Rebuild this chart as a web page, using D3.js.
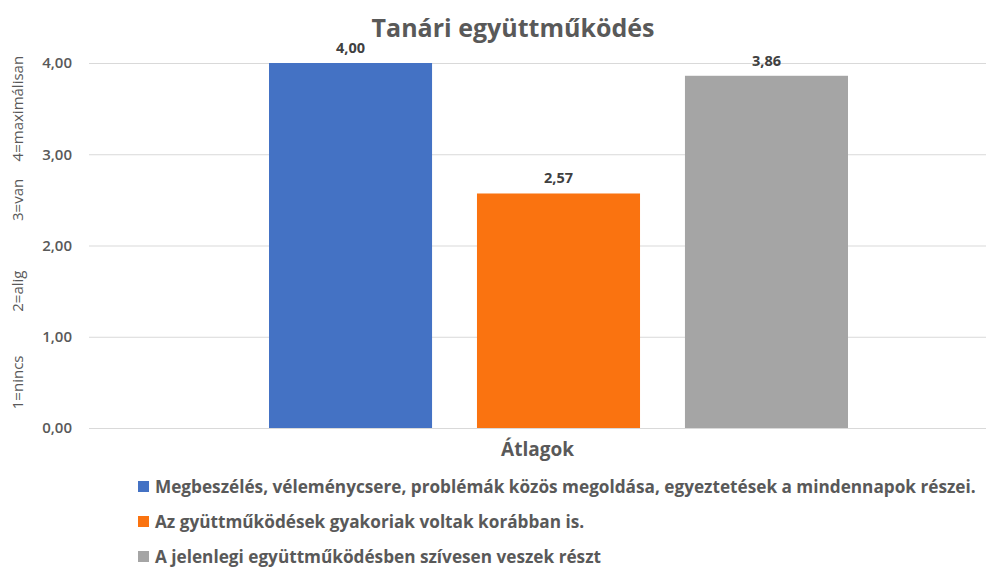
<!DOCTYPE html>
<html>
<head>
<meta charset="utf-8">
<script src="https://cdn.jsdelivr.net/npm/d3@7"></script>
<style>
  body { margin: 0; background: #fff; }
  svg { font-family: "Open Sans", "Liberation Sans", sans-serif; }
  .tick-label { font-size: 15px; font-weight: 600; fill: #595959; }
  .band-label { font-size: 15px; font-weight: 500; fill: #595959; }
  .value-label { font-size: 14.5px; font-weight: 700; fill: #404040; }
  .legend-text { font-size: 17.2px; font-weight: 700; fill: #595959; }
</style>
</head>
<body>
<svg id="chart" width="987" height="567"></svg>
<script>
const title = "Tanári együttműködés";
const category = "Átlagok";
const series = [
    "Megbeszélés, véleménycsere, problémák közös megoldása, egyeztetések a mindennapok részei.",
    "Az gyüttműködések gyakoriak voltak korábban is.",
    "A jelenlegi együttműködésben szívesen veszek részt"
];
const values = [4.00, 2.57, 3.86];
const colors = ["#4472C4", "#FA7310", "#A5A5A5"];
const yTicks = [0, 1, 2, 3, 4];
const levelLabels = ["1=nincs", "2=alig", "3=van", "4=maximálisan"];

const svg = d3.select("#chart");
const plot = { left: 89, right: 986, top: 63, bottom: 428 };

const fmt = v => v.toFixed(2).replace(".", ",");

const y = d3.scaleLinear().domain([0, 4]).range([plot.bottom, plot.top]);

// bars sit a bit right of the plot centre in the original
const x = d3.scaleBand()
    .domain(series)
    .range([269, 848])
    .paddingInner(0.216)
    .paddingOuter(0);

// gridlines
svg.append("g")
    .selectAll("line")
    .data(yTicks)
    .join("line")
    .attr("x1", plot.left)
    .attr("x2", plot.right)
    .attr("y1", d => y(d) + 0.5)
    .attr("y2", d => y(d) + 0.5)
    .attr("stroke", "#D9D9D9")
    .attr("stroke-width", 1);

// tick labels
svg.append("g")
    .selectAll("text")
    .data(yTicks)
    .join("text")
    .attr("class", "tick-label")
    .attr("x", 72)
    .attr("y", d => y(d))
    .attr("dy", "0.35em")
    .attr("text-anchor", "end")
    .text(d => fmt(d));

// level labels, one per band, rotated
svg.append("g")
    .selectAll("text")
    .data(levelLabels)
    .join("text")
    .attr("class", "band-label")
    .attr("transform", (d, i) => `translate(23,${y(i + 0.5)}) rotate(-90)`)
    .attr("text-anchor", "middle")
    .text(d => d);

// bars
svg.append("g")
    .selectAll("rect")
    .data(series)
    .join("rect")
    .attr("x", d => x(d))
    .attr("width", x.bandwidth())
    .attr("y", (d, i) => y(values[i]))
    .attr("height", (d, i) => y(0) - y(values[i]))
    .attr("fill", (d, i) => colors[i]);

// value labels
svg.append("g")
    .selectAll("text")
    .data(series)
    .join("text")
    .attr("class", "value-label")
    .attr("x", d => x(d) + x.bandwidth() / 2)
    .attr("y", (d, i) => y(values[i]) - 10)
    .attr("text-anchor", "middle")
    .text((d, i) => fmt(values[i]));

// title
svg.append("text")
    .attr("x", 513)
    .attr("y", 37)
    .attr("text-anchor", "middle")
    .style("font-size", "25px")
    .style("font-weight", 700)
    .style("fill", "#595959")
    .text(title);

// category label
svg.append("text")
    .attr("x", (plot.left + plot.right) / 2)
    .attr("y", 456)
    .attr("text-anchor", "middle")
    .style("font-size", "19px")
    .style("font-weight", 700)
    .style("fill", "#595959")
    .text(category);

// legend
const legend = svg.append("g");
const rowY = d3.scalePoint().domain(series).range([487, 557]);
series.forEach((s, i) => {
    legend.append("rect")
        .attr("x", 138)
        .attr("y", rowY(s) - 6)
        .attr("width", 11)
        .attr("height", 11)
        .attr("fill", colors[i]);
    legend.append("text")
        .attr("class", "legend-text")
        .attr("x", 155)
        .attr("y", rowY(s))
        .attr("dy", "0.35em")
        .text(s);
});
</script>
</body>
</html>
